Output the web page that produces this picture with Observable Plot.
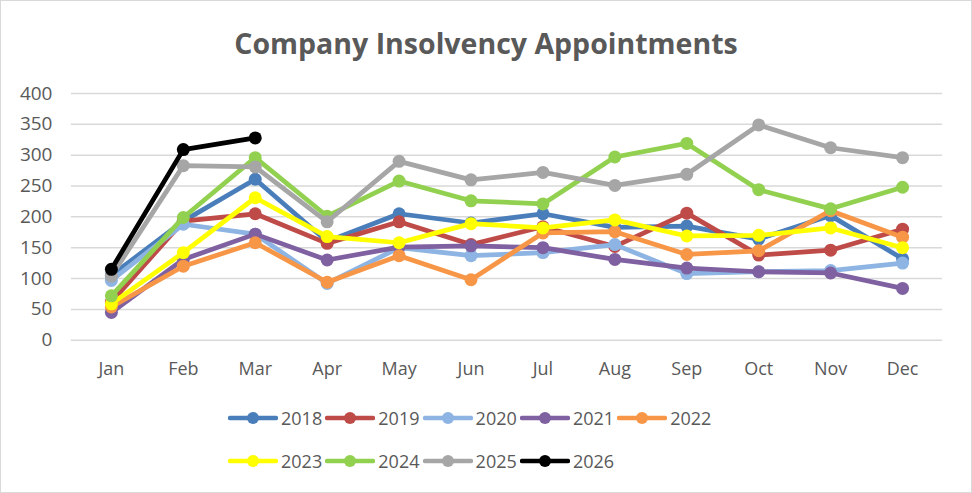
<!DOCTYPE html>
<html>
<head>
<meta charset="utf-8">
<script src="https://cdn.jsdelivr.net/npm/d3@7"></script>
<script src="https://cdn.jsdelivr.net/npm/@observablehq/plot@0.6"></script>
<style>
  html, body { margin: 0; padding: 0; background: #fff; }
  #wrap { position: relative; width: 972px; height: 493px; box-sizing: border-box; border: 1px solid #d9d9d9; background: #fff; overflow: hidden; font-family: "Open Sans", sans-serif; }
  #title { position: absolute; left: 0; top: 23px; width: 970px; text-align: center; font-weight: 700; font-size: 28.5px; line-height: 38px; color: #595959; }
  #chart { position: absolute; left: -1px; top: 73px; }
  .item { position: absolute; height: 24px; display: flex; align-items: center; font-size: 18px; color: #595959; }
  .item svg { display: block; margin-right: 3px; }
</style>
</head>
<body>
<div id="wrap">
  <div id="title">Company Insolvency Appointments</div>
  <div id="chart"></div>
  <div id="legend"></div>
</div>
<script>
const months = ["Jan","Feb","Mar","Apr","May","Jun","Jul","Aug","Sep","Oct","Nov","Dec"];
const yTicks = [0, 50, 100, 150, 200, 250, 300, 350, 400];
const years = ["2018","2019","2020","2021","2022","2023","2024","2025","2026"];
const colors = ["#4A7EBB","#BE4B48","#8DB4E2","#7F60A1","#F79646","#FFFF00","#92D050","#A6A6A6","#000000"];

const v2018 = [105, 193, 261, 160, 205, 190, 205, 183, 185, 164, 202, 132];
const v2019 = [62, 193, 205, 157, 192, 155, 184, 152, 206, 138, 146, 180];
const v2020 = [97, 188, 172, 92, 150, 137, 142, 155, 108, 111, 113, 125];
const v2021 = [45, 131, 172, 130, 151, 153, 150, 131, 117, 111, 109, 84];
const v2022 = [54, 120, 158, 94, 137, 98, 174, 176, 139, 145, 210, 167];
const v2023 = [59, 142, 231, 168, 158, 189, 182, 195, 169, 170, 182, 150];
const v2024 = [72, 199, 296, 201, 258, 226, 221, 297, 319, 244, 213, 248];
const v2025 = [104, 283, 281, 192, 290, 260, 272, 251, 269, 349, 312, 296];
const v2026 = [115, 309, 328];

const series = [v2018, v2019, v2020, v2021, v2022, v2023, v2024, v2025, v2026];

const seriesMarks = [];
series.forEach((vals, i) => {
  const rows = vals.map((v, j) => ({month: months[j], value: v, year: years[i]}));
  seriesMarks.push(Plot.line(rows, {x: "month", y: "value", stroke: colors[i], strokeWidth: 4.75, strokeLinejoin: "round", strokeLinecap: "round"}));
  seriesMarks.push(Plot.dot(rows, {x: "month", y: "value", r: 6.5, fill: colors[i], stroke: "none"}));
});

const chart = Plot.plot({
  width: 972,
  height: 318,
  marginLeft: 71,
  marginRight: 29,
  marginTop: 19,
  marginBottom: 52,
  x: {type: "point", domain: months, padding: 0.5, label: null},
  y: {domain: [0, 400], label: null},
  style: {fontFamily: "Open Sans, sans-serif", fontSize: "18px", color: "#595959", background: "transparent", overflow: "visible"},
  marks: [
    Plot.gridY(yTicks, {stroke: "#d9d9d9", strokeOpacity: 1, strokeWidth: 1.5}),
    Plot.axisY(yTicks, {tickSize: 0, tickPadding: 19, label: null, fill: "#595959", fontSize: 19}),
    Plot.axisX(months, {tickSize: 0, tickPadding: 22, label: null, fill: "#595959", fontSize: 18}),
    ...seriesMarks
  ]
});
document.getElementById("chart").appendChild(chart);

// Legend
const legend = document.getElementById("legend");
years.forEach((yr, i) => {
  const row = i < 5 ? 0 : 1;
  const col = i < 5 ? i : i - 5;
  const div = document.createElement("div");
  div.className = "item";
  div.style.left = (227 + col * 97.3) + "px";
  div.style.top = (row === 0 ? 405 : 448) + "px";
  const svg = d3.create("svg").attr("width", 50).attr("height", 16);
  svg.append("line").attr("x1", 2).attr("x2", 48).attr("y1", 8).attr("y2", 8)
    .attr("stroke", colors[i]).attr("stroke-width", 4.5).attr("stroke-linecap", "round");
  svg.append("circle").attr("cx", 25).attr("cy", 8).attr("r", 6).attr("fill", colors[i]);
  div.appendChild(svg.node());
  const span = document.createElement("span");
  span.textContent = yr;
  div.appendChild(span);
  legend.appendChild(div);
});
</script>
</body>
</html>
